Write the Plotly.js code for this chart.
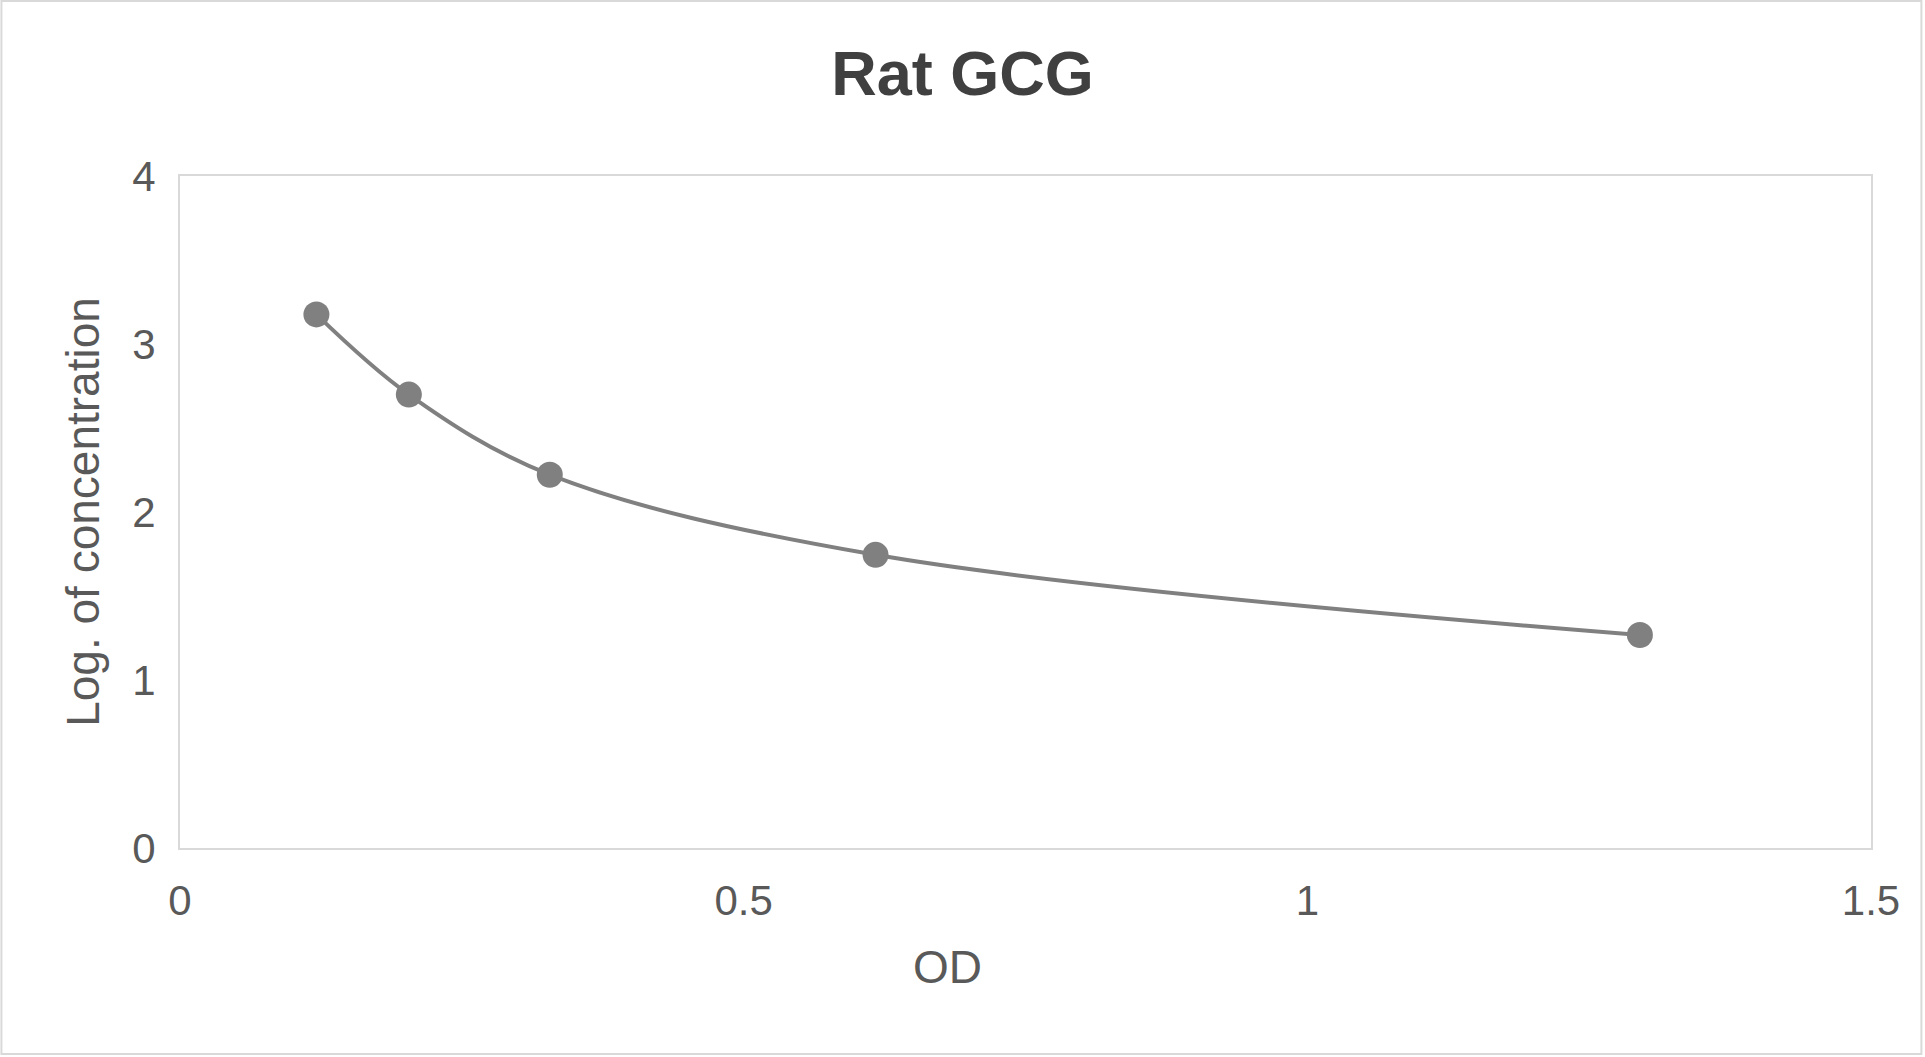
<!DOCTYPE html>
<html>
<head>
<meta charset="utf-8">
<script src="https://cdn.plot.ly/plotly-3.0.1.min.js"></script>
<style>
  body { margin: 0; background: #fff; }
  #chart { width: 1925px; height: 1057px; }
</style>
</head>
<body>
<div id="chart"></div>
<script>
// OD readings and log10 of the standard concentrations
var od = [0.121, 0.203, 0.328, 0.617, 1.295];
var logConc = [3.176, 2.699, 2.222, 1.745, 1.268];

var xTicks = [0, 0.5, 1, 1.5];
var yTicks = [0, 1, 2, 3, 4];

var data = [
  {
    type: "scatter",
    mode: "lines+markers",
    x: od,
    y: logConc,
    line: { color: "#808080", width: 4, shape: "spline", smoothing: 1 },
    marker: { color: "#808080", size: 26 },
    hoverinfo: "x+y",
  },
];

var layout = {
  width: 1925,
  height: 1057,
  margin: { l: 180, r: 54, t: 176, b: 209 },
  paper_bgcolor: "white",
  plot_bgcolor: "white",
  showlegend: false,
  font: { family: "Liberation Sans, Arial, sans-serif", color: "#595959" },
  title: {
    text: "<b>Rat GCG</b>",
    font: { size: 63, color: "#404040" },
    xref: "container",
    yref: "container",
    x: 0.5,
    y: 0.931,
    yanchor: "middle",
  },
  xaxis: {
    range: [0, 1.5],
    tickvals: xTicks,
    ticktext: xTicks.map(String),
    showgrid: false,
    zeroline: false,
    showline: true,
    mirror: true,
    linecolor: "#d9d9d9",
    linewidth: 2,
    ticks: "",
    ticklabelstandoff: 15,
    tickfont: { size: 42, color: "#595959" },
    fixedrange: true,
  },
  yaxis: {
    range: [0, 4],
    tickvals: yTicks,
    ticktext: yTicks.map(String),
    showgrid: false,
    zeroline: false,
    showline: true,
    mirror: true,
    linecolor: "#d9d9d9",
    linewidth: 2,
    ticks: "",
    ticklabelstandoff: 14,
    tickfont: { size: 42, color: "#595959" },
    title: {
      text: "Log. of concentration",
      font: { size: 46, color: "#595959" },
      standoff: 18,
    },
    fixedrange: true,
  },
  annotations: [
    {
      text: "OD",
      xref: "paper",
      yref: "paper",
      x: 0.4536,
      y: -0.177,
      xanchor: "center",
      yanchor: "middle",
      showarrow: false,
      font: { size: 46, color: "#595959" },
    },
  ],
  shapes: [
    {
      type: "rect",
      xref: "paper",
      yref: "paper",
      x0: -0.1056,
      x1: 1.0298,
      y0: -0.3065,
      y1: 1.2604,
      line: { color: "#d9d9d9", width: 2 },
      layer: "below",
    },
  ],
};

Plotly.newPlot("chart", data, layout, { displayModeBar: false, staticPlot: true });
</script>
</body>
</html>
